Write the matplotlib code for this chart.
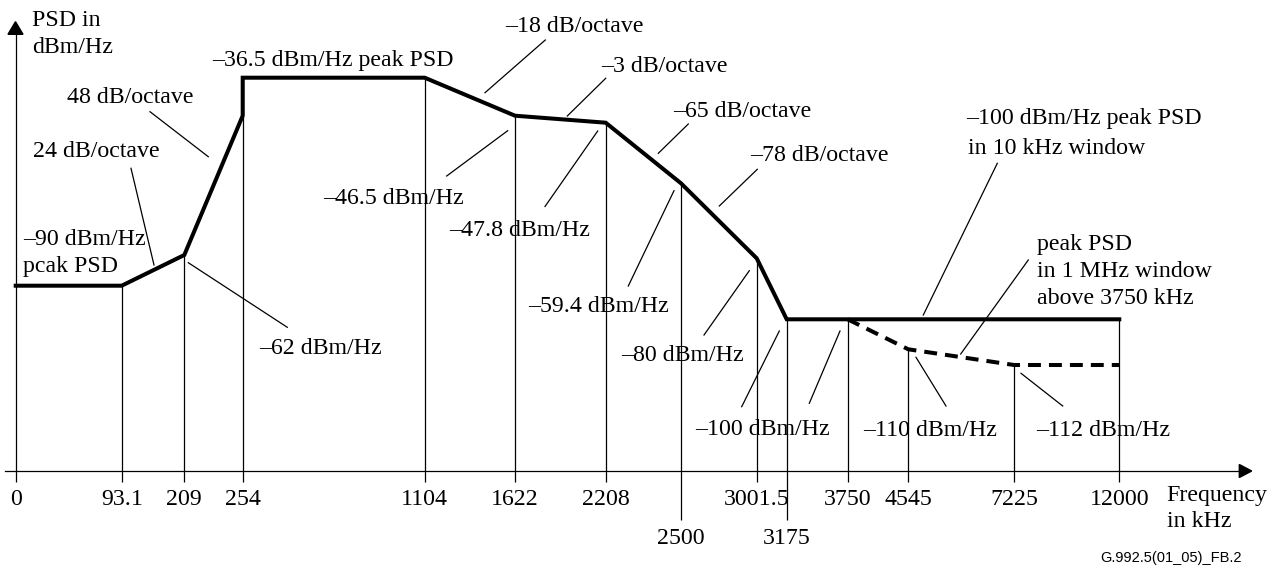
"""G.992.5 Annex B downstream PSD mask, schematic (non-linear) axes."""
import numpy as np
import matplotlib
matplotlib.use("Agg")
import matplotlib.pyplot as plt
from matplotlib.patches import Polygon

# ---- data ---------------------------------------------------------------- #
mask_freq = [0, 93.1, 209, 254, 254, 1104, 1622, 2208, 2500, 3001.5, 3175, 3750, 12000]   # kHz
mask_psd = [-90, -90, -62, -46.5, -36.5, -36.5, -46.5, -47.8, -59.4, -80, -100, -100, -100]  # dBm/Hz
win_freq = [3750, 4545, 7225, 12000]          # 1 MHz window mask above 3750 kHz
win_psd = [-100, -110, -112, -112]
tick_freq = [0, 93.1, 209, 254, 1104, 1622, 2208, 3001.5, 3750, 4545, 7225, 12000]
tick_lbl = ["0", "93.1", "209", "254", "1104", "1622", "2208", "3001.5", "3750", "4545", "7225", "12000"]
low_freq = [2500, 3175]                      # labels drawn on the second row
low_lbl = ["2500", "3175"]

# ---- schematic axis breakpoints (value -> pixel) ------------------------- #
W, H = 1278, 569
XB = [0, 93.1, 209, 254, 1104, 1622, 2208, 2500, 3001.5, 3175, 3750, 4545, 7225, 12000]
XP = [15.7, 121.7, 184.3, 242.7, 424.7, 515, 605.7, 681, 756.7, 786.7, 847.7, 908.3, 1014, 1119.3]
YB = [-112, -110, -100, -90, -80, -62, -59.4, -47.8, -46.5, -36.5]
YP = [H - p for p in [365, 349.3, 319.3, 285.7, 258.3, 255, 183.3, 122.7, 115.7, 77.7]]


def piecewise(src, dst):
    src, dst = np.asarray(src, float), np.asarray(dst, float)
    s0 = (dst[1] - dst[0]) / (src[1] - src[0])
    s1 = (dst[-1] - dst[-2]) / (src[-1] - src[-2])

    def f(v):
        v = np.asarray(v, float)
        out = np.interp(v, src, dst)
        out = np.where(v < src[0], dst[0] + (v - src[0]) * s0, out)
        return np.where(v > src[-1], dst[-1] + (v - src[-1]) * s1, out)
    return f


xf, xi = piecewise(XB, XP), piecewise(XP, XB)
yf, yi = piecewise(YB, YP), piecewise(YP, YB)

SERIF = ["Liberation Serif", "DejaVu Serif"]
FS = 17.2
LW_THICK, LW_THIN = 2.9, 0.9

fig = plt.figure(figsize=(W / 100, H / 100), dpi=100)
x0, x1, ytop, ybot = 5, 1239.3, 34.3, 471
ax = fig.add_axes([x0 / W, (H - ybot) / H, (x1 - x0) / W, (ybot - ytop) / H])
ax.set_xscale("function", functions=(xf, xi))
ax.set_yscale("function", functions=(yf, yi))
ax.set_xlim(float(xi(x0)), float(xi(x1)))
ax.set_ylim(float(yi(H - ybot)), float(yi(H - ytop)))

# mask lines
ax.plot(mask_freq, mask_psd, color="black", lw=LW_THICK, solid_joinstyle="miter", zorder=3)
ax.plot(win_freq, win_psd, color="black", lw=LW_THICK, ls=(0, (3.2, 2.0)), zorder=3)

# thin drop lines from each breakpoint to the frequency axis
all_f = np.array(mask_freq + win_freq)
all_p = np.array(mask_psd + win_psd)
drop_f = [f for f in XB if f > 0]
drop_top = [all_p[np.isclose(all_f, f)].max() for f in drop_f]
ax.vlines(drop_f, ax.get_ylim()[0], drop_top, color="black", lw=LW_THIN, zorder=2)

# axes: spines, ticks
for s in ("top", "right"):
    ax.spines[s].set_visible(False)
ax.spines["left"].set_position(("data", 0))
ax.spines["left"].set_linewidth(LW_THIN)
ax.spines["bottom"].set_linewidth(LW_THIN)
ax.set_yticks([])
ax.set_xticks(tick_freq, tick_lbl)
ax.set_xticks(low_freq, low_lbl, minor=True)
ax.tick_params(axis="x", which="major", length=7.9, width=LW_THIN, pad=5.2,
               labelsize=FS, labelfontfamily=SERIF)
ax.tick_params(axis="x", which="minor", length=35.3, width=LW_THIN, pad=5.5,
               labelsize=FS, labelfontfamily=SERIF)
ax.patch.set_alpha(0)

# ---- annotation overlay in pixel coordinates ----------------------------- #
ov = fig.add_axes([0, 0, 1, 1], zorder=5)
ov.set_xlim(0, W); ov.set_ylim(H, 0); ov.axis("off"); ov.patch.set_alpha(0)

ov.add_patch(Polygon([(x1, ybot - 6.5), (1251.7, ybot), (x1, ybot + 6.5)], closed=True, color="black"))
ov.add_patch(Polygon([(8, ytop), (15.5, 21.7), (23, ytop)], closed=True, color="black"))

labels = [
    (31.7, 26, "PSD in"), (31.7, 52.7, "dBm/Hz"),
    (212, 65.7, "–36.5 dBm/Hz peak PSD"),
    (66.7, 102.7, "48 dB/octave"), (33.3, 156.7, "24 dB/octave"),
    (23.3, 245, "–90 dBm/Hz"), (23.3, 271.7, "pcak PSD"),
    (258.7, 354, "–62 dBm/Hz"),
    (505, 31.7, "–18 dB/octave"), (601, 71.7, "–3 dB/octave"),
    (672.7, 117.3, "–65 dB/octave"), (750, 160.7, "–78 dB/octave"),
    (322.7, 204, "–46.5 dBm/Hz"), (449.3, 236, "–47.8 dBm/Hz"),
    (528.3, 311.7, "–59.4 dBm/Hz"), (620.7, 361, "–80 dBm/Hz"),
    (695, 435, "–100 dBm/Hz"), (862.7, 436, "–110 dBm/Hz"), (1036, 436, "–112 dBm/Hz"),
    (966, 124, "–100 dBm/Hz peak PSD"), (968, 154, "in 10 kHz window"),
    (1036.7, 250, "peak PSD"), (1036.7, 277.3, "in 1 MHz window"), (1036.7, 304, "above 3750 kHz"),
    (1166.7, 501, "Frequency"), (1166.7, 526.7, "in kHz"),
]
for x, y, s in labels:
    ov.text(x, y, s, ha="left", va="baseline", fontsize=FS, family=SERIF)

leaders = [
    ((150, 111.7), (208.3, 156.7)), ((131, 168.3), (154, 265)), ((188.3, 262.7), (287.3, 327.3)),
    ((545.3, 40), (485, 92.7)), ((605.7, 78.3), (567.3, 116)), ((688.3, 124), (658.3, 153.3)),
    ((757.3, 169.3), (719.3, 206)), ((446.7, 176), (507.7, 130.7)), ((545, 206.5), (597.7, 131)),
    ((628.3, 286), (674, 190.7)), ((704, 335), (749.3, 270.7)), ((741.7, 406.7), (779.3, 331)),
    ((809.3, 403.3), (840, 331)), ((946, 406), (916, 357.3)), ((1062.7, 406), (1021, 373.3)),
    ((997.3, 163.3), (923.3, 315)), ((1028.3, 260), (960.7, 354)),
]
for (xa, ya), (xb, yb) in leaders:
    ov.plot([xa, xb], [ya, yb], color="black", lw=LW_THIN)

ov.text(1100, 561.7, "G.992.5(01_05)_FB.2", ha="left", va="baseline", fontsize=10.5,
        family=["Liberation Sans", "DejaVu Sans"])

fig.savefig("out.png", dpi=100, facecolor="white")
